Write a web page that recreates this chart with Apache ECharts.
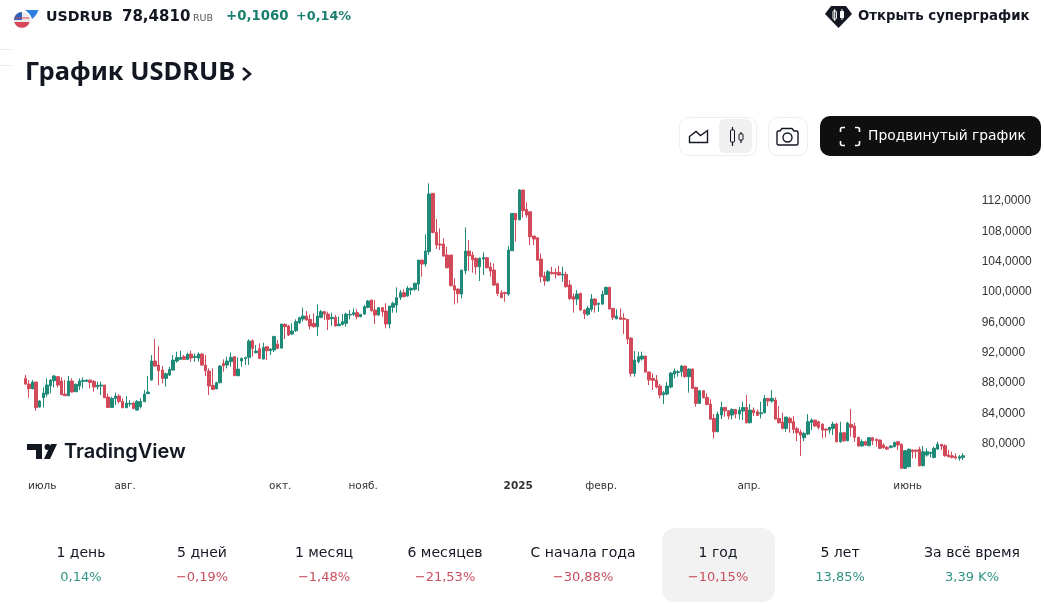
<!DOCTYPE html>
<html><head><meta charset="utf-8">
<style>html,body{margin:0;padding:0;background:#fff}#c{width:1044px;height:607px}</style>
<script src="https://cdn.jsdelivr.net/npm/echarts@6/dist/echarts.min.js"></script>
</head><body><div id="c"></div>
<script>
const opens=[88.60,87.85,87.24,88.12,84.82,86.05,86.53,87.63,88.29,88.82,
88.25,86.53,86.31,88.25,86.84,87.59,88.20,88.20,88.38,88.20,
87.50,87.59,87.72,86.14,84.77,85.96,86.27,85.56,84.73,85.21,
85.34,84.42,84.86,85.52,86.58,88.38,90.89,90.36,89.70,88.60,
89.04,89.70,90.89,91.11,91.46,91.11,91.81,91.37,91.28,91.81,
90.36,89.57,87.68,87.24,88.03,90.58,90.36,90.80,91.46,88.95,
90.89,91.20,91.37,93.57,91.99,92.52,91.15,92.78,92.25,92.34,
93.13,92.60,95.73,95.51,94.45,94.89,95.95,96.43,96.83,96.39,
95.86,95.42,96.65,97.40,97.09,96.48,96.65,95.55,95.73,95.86,
96.96,97.05,97.27,96.74,97.09,97.97,98.94,97.62,96.96,97.93,
97.49,95.77,97.97,98.28,99.29,99.91,99.47,100.26,100.35,101.04,
104.21,103.68,105.31,113.01,107.86,106.32,106.32,104.87,104.87,100.82,
100.38,99.72,102.80,105.40,104.87,104.43,103.33,104.34,104.52,103.29,
102.89,101.09,99.90,99.94,99.72,105.44,110.37,109.53,113.45,110.90,
110.59,107.38,107.16,104.34,102.10,101.48,102.58,102.58,102.58,102.23,
102.32,100.91,99.38,99.07,99.82,97.62,97.05,97.71,99.07,98.37,
98.41,99.69,100.61,97.84,96.48,96.65,96.52,96.39,93.92,89.26,
90.80,91.15,91.55,89.44,88.60,88.38,87.59,86.44,86.53,87.46,
89.17,89.39,89.48,90.23,88.82,89.83,87.41,85.30,86.97,86.09,
85.21,83.32,81.56,83.76,84.77,84.33,83.76,84.51,83.89,84.29,
84.77,82.75,84.42,84.20,83.94,84.07,85.96,85.61,85.74,83.32,
82.84,82.00,83.32,82.88,81.96,81.52,80.77,81.25,82.79,83.10,
82.88,82.57,81.91,81.78,82.00,82.57,80.24,81.43,80.37,82.54,
82.32,80.82,79.68,80.25,79.72,80.78,80.56,80.47,79.81,79.50,
79.50,79.59,80.25,79.90,76.73,76.95,79.15,79.15,79.24,77.08,
78.49,78.71,78.18,79.28,79.90,79.72,78.49,78.40,78.27,78.05,78.18];
const closes=[87.85,87.24,88.12,84.77,85.61,86.66,87.72,88.38,88.91,87.72,
86.44,86.31,88.25,86.80,87.81,88.25,88.34,88.38,88.07,87.46,
87.68,87.72,86.05,84.77,85.96,86.27,85.56,84.73,85.34,85.30,
84.64,85.56,85.56,86.53,86.80,90.89,90.23,89.61,88.60,89.22,
89.79,91.02,91.37,91.37,91.11,91.77,91.28,91.50,91.81,90.36,
89.61,87.59,87.15,88.03,90.23,90.27,90.89,91.37,88.95,89.83,
91.24,91.33,93.53,92.56,92.21,91.24,92.69,92.25,92.47,94.14,
92.56,95.77,95.42,94.32,94.85,96.08,96.61,96.83,96.30,95.51,
95.42,96.83,97.40,97.09,96.39,96.65,95.51,95.77,96.08,97.09,
97.05,97.27,96.74,97.05,98.06,98.81,97.53,96.96,97.93,97.40,
95.77,98.15,98.50,99.25,99.91,99.38,100.48,100.48,101.14,104.21,
103.68,105.40,112.92,107.86,106.19,106.19,104.74,103.20,100.82,100.25,
99.77,102.89,105.40,104.78,104.25,103.33,104.43,104.52,103.20,102.76,
100.91,99.81,99.24,99.81,105.53,110.37,109.53,113.45,110.72,110.15,
107.29,106.98,104.21,102.01,101.44,102.67,102.41,102.36,102.23,102.36,
100.69,99.15,99.03,99.73,97.62,97.09,97.84,99.07,98.28,98.50,
99.69,100.61,97.75,96.65,96.83,96.39,96.39,93.79,89.26,91.02,
91.46,91.55,89.44,88.38,88.34,87.46,86.40,86.71,87.59,89.30,
89.57,89.48,90.23,88.82,89.83,87.28,85.30,86.97,86.05,85.17,
83.23,81.56,83.89,84.77,84.33,83.63,84.51,83.89,84.42,84.77,
82.75,84.42,84.07,83.72,84.07,85.96,85.61,85.96,83.23,82.75,
82.00,83.50,82.75,81.87,81.43,81.12,81.34,82.88,83.10,82.31,
82.13,81.78,81.78,82.13,82.57,80.24,81.43,80.37,82.70,82.14,
80.82,79.68,80.25,79.81,80.78,80.38,80.38,79.37,79.46,79.28,
79.68,80.16,79.81,76.73,79.06,79.24,78.93,78.98,77.08,78.93,
78.93,78.84,79.37,79.90,79.68,78.40,78.27,78.18,78.09,78.27,78.40];
const highs=[89.04,88.38,88.38,88.12,85.74,87.41,88.60,88.47,89.04,88.91,
88.73,88.38,88.91,88.60,87.94,88.60,88.73,88.47,88.38,88.38,
88.16,88.16,87.72,86.62,86.18,86.71,86.49,85.96,86.27,85.74,
85.52,85.74,85.96,87.06,88.91,91.68,93.79,92.87,90.23,89.35,
90.14,91.68,92.12,92.25,91.68,91.99,92.25,91.90,92.03,91.90,
91.68,89.92,89.92,88.16,90.36,91.11,91.46,92.03,91.46,91.37,
91.37,91.46,93.75,93.75,93.00,93.22,93.31,92.87,92.56,94.19,
93.66,95.77,95.86,95.64,95.86,96.39,96.74,97.93,97.49,97.05,
97.18,98.37,97.62,97.53,97.40,97.27,96.96,96.74,97.09,97.27,
97.62,97.84,97.71,97.05,98.28,98.94,98.94,98.94,97.97,97.93,
98.50,98.15,98.72,100.61,100.26,100.35,100.79,100.61,101.23,104.21,
104.21,107.60,114.33,113.01,109.62,108.39,107.07,105.97,104.87,101.79,
100.47,102.89,108.52,106.85,105.31,104.56,104.56,105.22,104.56,103.90,
103.77,101.26,100.25,100.03,106.10,110.37,110.37,113.58,113.45,111.82,
110.68,107.38,107.16,105.09,102.67,102.89,103.33,103.11,103.46,103.33,
102.67,101.57,99.82,100.26,99.91,97.71,98.15,99.73,99.16,98.59,
100.17,100.70,100.70,97.84,97.71,97.84,97.18,96.39,94.01,92.21,
92.12,92.12,91.55,89.48,89.26,89.04,87.85,86.93,88.16,89.44,
89.92,89.70,90.36,90.23,89.92,89.92,87.50,87.06,87.06,86.62,
85.83,83.89,84.20,85.52,84.77,84.42,84.64,84.51,84.86,85.52,
86.40,85.21,84.77,84.51,85.52,86.40,85.96,87.06,86.09,84.95,
84.07,83.50,83.54,83.63,82.22,81.87,81.56,83.89,83.32,83.10,
83.01,82.66,82.00,82.22,82.88,82.75,82.88,81.56,82.88,84.56,
82.76,80.91,80.56,80.38,80.82,80.82,80.69,80.56,80.03,79.68,
79.81,80.25,80.25,80.03,79.15,79.37,79.24,79.15,79.59,79.68,
79.37,78.93,79.59,80.25,79.94,79.90,79.15,78.93,78.71,78.49,78.71];
const lows=[87.76,86.05,87.15,84.33,84.77,84.77,86.18,86.62,87.41,87.41,
86.40,86.27,86.27,86.75,86.80,87.06,87.28,88.12,87.28,86.84,
87.15,86.40,86.00,84.73,84.73,85.08,85.30,84.68,84.68,84.86,
84.51,84.33,84.64,85.48,86.53,88.29,90.14,87.72,87.94,87.50,
88.91,89.61,90.67,91.02,91.02,91.02,90.80,90.80,90.80,90.27,
88.91,86.40,87.06,87.15,87.94,89.48,89.92,90.14,88.91,88.91,
90.14,90.36,90.36,91.46,91.90,91.20,91.11,91.02,91.68,92.08,
92.52,92.52,93.79,94.19,94.32,94.72,95.77,96.08,96.21,95.07,
95.29,94.19,96.52,96.30,94.98,95.51,95.46,95.51,95.55,95.42,
96.39,96.83,96.39,96.65,96.96,97.84,97.40,95.77,96.87,96.74,
95.20,95.20,97.27,97.27,98.94,99.29,99.38,99.60,100.17,100.12,
102.01,103.33,104.87,107.73,105.66,105.53,104.65,103.11,100.73,98.36,
98.53,99.15,102.32,102.80,102.54,102.32,101.44,102.23,103.11,102.01,
100.82,99.50,99.19,98.71,99.50,105.40,106.63,109.45,109.80,109.80,
106.19,106.19,104.08,101.26,100.82,101.35,102.32,101.79,102.14,101.35,
100.60,98.93,97.27,98.28,97.53,96.43,96.83,97.40,97.27,97.40,
98.28,99.60,97.71,96.30,96.39,96.30,94.45,93.13,88.82,88.82,
90.58,90.93,89.35,87.72,87.06,87.28,85.96,85.21,86.40,87.28,
88.60,88.82,88.82,88.73,86.71,87.19,84.86,85.26,85.96,85.04,
83.10,80.68,81.52,83.23,83.54,83.19,83.19,83.32,83.19,83.10,
82.66,82.66,83.63,83.63,83.32,83.98,84.95,85.39,83.19,82.66,
81.87,81.56,81.43,81.34,80.33,78.35,80.33,81.12,81.78,82.22,
81.87,80.68,80.81,81.34,81.12,80.15,80.11,80.24,80.33,80.91,
80.25,79.59,79.59,79.68,79.68,79.81,79.59,79.28,79.33,79.15,
79.37,79.50,79.15,76.64,76.64,76.86,78.05,78.05,76.99,76.99,
78.27,78.18,78.05,79.15,79.15,78.27,78.18,78.05,77.92,77.74,77.83];
const tickIndexes=[4,27,70,93,136,159,200,244];
const tickLabels=['июль','авг.','окт.','нояб.','2025','февр.','апр.','июнь'];
const periods=['1 день','5 дней','1 месяц','6 месяцев','С начала года','1 год','5 лет','За всё время'];
const periodValues=['0,14%','−0,19%','−1,48%','−21,53%','−30,88%','−10,15%','13,85%','3,39 K%'];
const periodCenters=[81,202,324,445,583,718,840,972];

const categories=opens.map((_,i)=>'D'+(i+1));
const candles=opens.map((o,i)=>[o,closes[i],lows[i],highs[i]]);
const UP='#1f8a78',DOWN='#d2495a',F='"DejaVu Sans",sans-serif',N='"Noto Sans",sans-serif';
const T=(x,y,text,fontSize,fill,fontWeight,textAlign,fontFamily)=>({type:'text',x,y,silent:true,style:{text,fontSize,fill:fill||'#131722',fontWeight:fontWeight||'normal',align:textAlign||'left',verticalAlign:'middle',fontFamily:fontFamily||F}});
let pathCount=0;
const P=(pathData,stroke,fill,lineWidth)=>{
  const name='icon'+(pathCount++);
  echarts.graphic.registerShape(name,echarts.graphic.extendPath(pathData,{}));
  return {type:name,silent:true,style:{stroke:stroke||'none',fill:fill||'none',lineWidth:lineWidth||1.4}};
};
const R=(x,y,width,height,r,fill,stroke)=>({type:'rect',silent:true,shape:{x,y,width,height,r},style:{fill:fill||'#fff',stroke:stroke||'none',lineWidth:1}});

const g=[];
// faint page rules
g.push(R(0,49,12,1,0,'#eeeeee'),R(0,65,12,1,0,'#eeeeee'));
// flag icon
g.push(P('M25 10H38.5C37 14 35 17 32 19C31 15 28 12 25 10Z','none','#2d7fe0'));
g.push({type:'circle',silent:true,shape:{cx:22,cy:20,r:8},style:{fill:'#e9e9ee'}});
g.push(P('M14.3 22H29.7A8 8 0 0 1 14.3 22Z','none','#d9485a'));
g.push(P('M14 20A8 8 0 0 1 22 12V20Z','none','#2d63b8'));
g.push(R(14.5,17.5,15,1,0,'#d9485a'));
// header
g.push(T(46,17,'USDRUB',14.2,'#131722','bold'));
g.push(T(122,17,'78,4810',15,'#131722','bold'));
g.push(T(193,19,'RUB',9.5,'#555'));
g.push(T(226,17,'+0,1060',13.3,'#1a7f6e','bold'));
g.push(T(296,17,'+0,14%',12.8,'#1a7f6e','bold'));
g.push(P('M831 6H846L852 14L838.5 28L825 14Z','none','#131722'));
g.push(R(833,11,3.4,8,0.5,'#131722','#fff'),P('M834.7 9V21M842 9V20','#fff','none',1),R(840,11,4,7,0.5,'#fff'));
g.push(T(858,17,'Открыть суперграфик',13.3,'#131722','bold'));
g.push(T(25,73,'График USDRUB',25.5,'#131722','bold','left',N));
g.push(P('M243 68L250 74L243 80','#131722','none',2.6));
// toolbar
g.push(R(679.5,117.5,77,38,9,'#fff','#eeeeee'),R(719,119,33,34,6,'#f0f0f0'));
g.push(P('M689.5 142.5V136.5L696 131.5L700.5 135.5L707.5 130.5V142.5Z','#131722'));
g.push(P('M732.5 127V146M741 132V143','#131722','none',1.2),R(730.5,130,4,12,0.5,'#f0f0f0','#131722'),R(739,134,4,6,0.5,'#f0f0f0','#131722'));
g.push(R(768.5,117.5,39,38,9,'#fff','#eeeeee'));
g.push(P('M780 131L782 128.5H792L794 131H796.5A1.5 1.5 0 0 1 798 132.5V143.5A1.5 1.5 0 0 1 796.5 145H778.5A1.5 1.5 0 0 1 777 143.5V132.5A1.5 1.5 0 0 1 778.5 131Z','#131722'));
g.push({type:'circle',silent:true,shape:{cx:787.5,cy:137.5,r:4.5},style:{fill:'none',stroke:'#131722',lineWidth:1.4}});
g.push(R(820,116,221,40,10,'#0f0f0f'));
g.push(P('M840.5 132V129.5A2 2 0 0 1 842.5 127.5H845M855 127.5H857.5A2 2 0 0 1 859.5 129.5V132M859.5 141V143.5A2 2 0 0 1 857.5 145.5H855M845 145.5H842.5A2 2 0 0 1 840.5 143.5V141','#fff','none',1.6));
g.push(T(868,136.5,'Продвинутый график',13.85,'#ffffff'));
// logo
g.push(P('M27 444H42V459H36V450H27Z','none','#131722'),{type:'circle',silent:true,shape:{cx:47.5,cy:447,r:3},style:{fill:'#131722'}},P('M51 444H57L50 459H44Z','none','#131722'));
g.push(T(64,451.5,'TradingView',20,'#131722','600','left','Inter,sans-serif'));
// period tabs
g.push(R(662,528,113,74,13,'#f2f2f2'));
periods.forEach((p,i)=>{
  g.push(T(periodCenters[i],553.5,p,14,'#131722','normal','center'));
  const c=periodValues[i].startsWith('−')?'#c94f5f':'#2f9483';
  g.push(T(periodCenters[i],577.5,periodValues[i],13,c,'normal','center'));
});

const chart=echarts.init(document.getElementById('c'));
chart.setOption({
  animation:false,
  backgroundColor:'#fff',
  grid:{left:23.5,top:170.7,width:941.2,height:303.2,containLabel:false},
  xAxis:{type:'category',data:categories,boundaryGap:true,
    axisLine:{show:false},axisTick:{show:false},splitLine:{show:false},
    axisLabel:{show:true,margin:7,padding:[0,0,0,5],interval:(i)=>tickIndexes.includes(i),hideOverlap:false,
      fontFamily:F,fontSize:10.5,color:'#333',
      formatter:(v,i)=>{const l=tickLabels[tickIndexes.indexOf(i)];return l==='2025'?'{b|2025}':l;},
      rich:{b:{fontWeight:'bold',fontFamily:F,fontSize:10.5,color:'#333'}}}},
  yAxis:{type:'value',position:'right',min:76,max:116,interval:4,scale:true,
    axisLine:{show:false},axisTick:{show:false},splitLine:{show:false},
    axisLabel:{margin:17,padding:[2,0,0,0],fontFamily:'"Liberation Sans",sans-serif',fontSize:12,color:'#333',
      formatter:v=>(v<80||v>112)?'':v.toFixed(4).replace('.',',')}},
  series:[{type:'candlestick',data:candles,barWidth:3,
    itemStyle:{color:UP,color0:DOWN,borderColor:UP,borderColor0:DOWN,borderWidth:1}}],
  graphic:{elements:g}
});
</script></body></html>
